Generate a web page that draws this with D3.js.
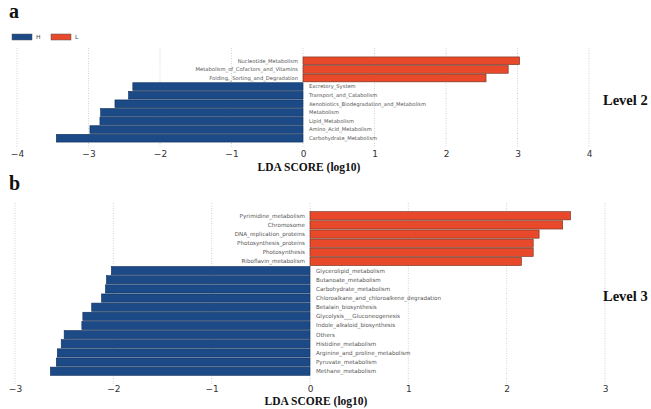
<!DOCTYPE html>
<html><head><meta charset="utf-8">
<script src="https://cdn.jsdelivr.net/npm/d3@7/dist/d3.min.js"></script>
<style>body{margin:0;background:#fff}svg{display:block}</style>
</head><body>
<svg id="c" width="651" height="409"></svg>
<script>
const level2Names = ["Nucleotide_Metabolism","Metabolism_of_Cofactors_and_Vitamins","Folding,_Sorting_and_Degradation","Excretory_System","Transport_and_Catabolism","Xenobiotics_Biodegradation_and_Metabolism","Metabolism","Lipid_Metabolism","Amino_Acid_Metabolism","Carbohydrate_Metabolism"];
const level2Scores = [3.03,2.87,2.56,-2.38,-2.44,-2.63,-2.83,-2.84,-2.98,-3.45];
const level2Ticks = [-4,-3,-2,-1,0,1,2,3,4];

const level3Names = ["Pyrimidine_metabolism","Chromosome","DNA_replication_proteins","Photosynthesis_proteins","Photosynthesis","Riboflavin_metabolism","Glycerolipid_metabolism","Butanoate_metabolism","Carbohydrate_metabolism","Chloroalkane_and_chloroalkene_degradation","Betalain_biosynthesis","Glycolysis___Gluconeogenesis","Indole_alkaloid_biosynthesis","Others","Histidine_metabolism","Arginine_and_proline_metabolism","Pyruvate_metabolism","Methane_metabolism"];
const level3Scores = [2.65,2.57,2.33,2.27,2.27,2.15,-2.02,-2.07,-2.08,-2.12,-2.22,-2.31,-2.32,-2.50,-2.53,-2.57,-2.58,-2.64];
const level3Ticks = [-3,-2,-1,0,1,2,3];

const groups = ["H","L"];
const colors = {H:"#1b4a87", L:"#e8492a"};

const svg = d3.select("#c");

function panel(cfg){
  const g = svg.append("g");
  const x = d3.scaleLinear().domain(cfg.domain).range(cfg.xr);
  const y = d3.scaleBand().domain(cfg.names).range(cfg.yr).paddingInner(0.1).paddingOuter(0.05);
  g.selectAll("line.grid").data(cfg.ticks).join("line")
    .attr("x1",d=>x(d)).attr("x2",d=>x(d))
    .attr("y1",cfg.gy[0]).attr("y2",cfg.gy[1])
    .attr("stroke","#c8c8c8").attr("stroke-width",0.8).attr("stroke-dasharray","1,1.5");
  const data = cfg.names.map((n,i)=>({n, v:cfg.scores[i]}));
  g.selectAll("rect").data(data).join("rect")
    .attr("x",d=>x(Math.min(0,d.v))).attr("width",d=>Math.abs(x(d.v)-x(0)))
    .attr("y",d=>y(d.n)).attr("height",y.bandwidth())
    .attr("fill",d=>d.v<0?colors.H:colors.L)
    .attr("stroke",d=>d.v<0?"#0f2f5c":"#6e3020").attr("stroke-width",0.6);
  g.selectAll("text.lab").data(data).join("text")
    .attr("x",d=>d.v<0?x(0)+6:x(0)-5)
    .attr("y",d=>y(d.n)+y.bandwidth()/2)
    .attr("dy","0.35em")
    .attr("text-anchor",d=>d.v<0?"start":"end")
    .attr("font-family","DejaVu Sans, sans-serif")
    .attr("font-size",cfg.fs)
    .attr("fill","#555")
    .text(d=>d.n);
  const ax = d3.axisBottom(x).tickValues(cfg.ticks).tickSize(0).tickPadding(0).tickFormat(d=>d<0?"\u2212"+Math.abs(d):d);
  const ag = g.append("g").attr("transform",`translate(0,${cfg.ty})`).call(ax);
  ag.select(".domain").remove();
  ag.selectAll("text").attr("font-family","DejaVu Sans, sans-serif").attr("font-size",9).attr("fill","#333");
  g.append("text").attr("x",x(0)+6).attr("y",cfg.ly).attr("text-anchor","middle")
    .attr("font-family","Liberation Serif, serif").attr("font-weight","bold").attr("font-size",11.5)
    .attr("fill","#111").text("LDA SCORE (log10)");
  g.append("text").attr("x",cfg.levx).attr("y",cfg.levy).attr("font-family","Liberation Serif, serif")
    .attr("font-weight","bold").attr("font-size",14.5).attr("fill","#111").text(cfg.level);
  g.append("text").attr("x",9).attr("y",cfg.lety).attr("font-family","Liberation Serif, serif")
    .attr("font-weight","bold").attr("font-size",20).attr("fill","#111").text(cfg.letter);
}

panel({names:level2Names, scores:level2Scores, ticks:level2Ticks, domain:[-4,4], xr:[17,589], yr:[56.5,142.5], gy:[48,148], ty:151, ly:171, fs:5.2, level:"Level 2", levx:603, levy:105, letter:"a", lety:18});
panel({names:level3Names, scores:level3Scores, ticks:level3Ticks, domain:[-3,3], xr:[15,605], yr:[211.2,375.8], gy:[203,385], ty:386, ly:405, fs:5.6, level:"Level 3", levx:603, levy:301, letter:"b", lety:190});

const leg = svg.append("g").attr("transform","translate(12,34)");
groups.forEach((k,i)=>{
  const lg = leg.append("g").attr("transform",`translate(${i*39},0)`);
  lg.append("rect").attr("width",20).attr("height",6).attr("fill",colors[k]).attr("stroke","#555").attr("stroke-width",0.5);
  lg.append("text").attr("x",24).attr("y",3).attr("dy","0.35em").attr("font-family","DejaVu Sans, sans-serif").attr("font-size",6).attr("fill","#444").text(k);
});
</script>
</body></html>
